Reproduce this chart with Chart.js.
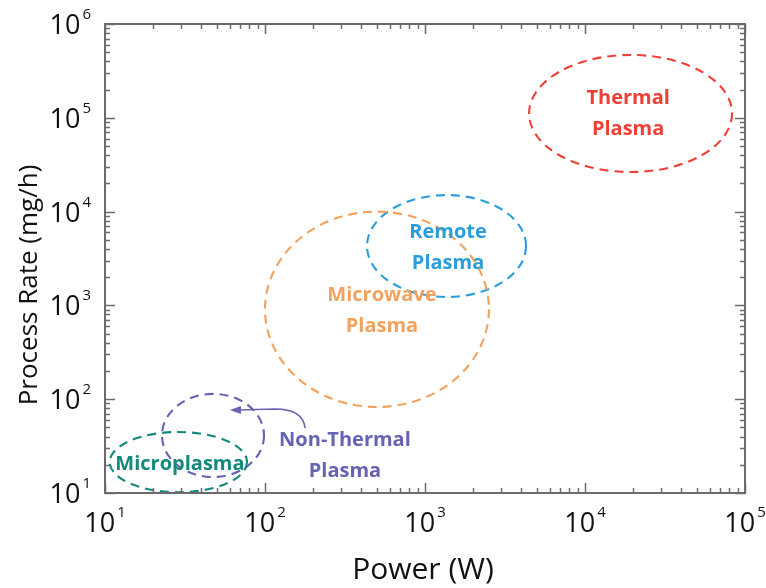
<!DOCTYPE html>
<html>
<head>
<meta charset="utf-8">
<script src="https://cdn.jsdelivr.net/npm/chart.js@4"></script>
<style>
  html, body { margin: 0; padding: 0; background: #ffffff; }
  #wrap { width: 766px; height: 588px; }
</style>
</head>
<body>
<div id="wrap"><canvas id="c" width="766" height="588"></canvas></div>
<script>
// ---- data ----
const regionNames = ['Thermal Plasma', 'Remote Plasma', 'Microwave Plasma', 'Non-Thermal Plasma', 'Microplasma'];
const labelLines  = [['Thermal', 'Plasma'], ['Remote', 'Plasma'], ['Microwave', 'Plasma'], ['Non-Thermal', 'Plasma'], ['Microplasma']];
const powerMin = [4470, 434, 100, 22.7, 10.7];      // W
const powerMax = [83000, 4280, 2510, 98.6, 77.2];   // W
const rateMin  = [26400, 1230, 82.6, 14.8, 10.2];   // mg/h
const rateMax  = [468000, 15000, 10000, 114, 44.7]; // mg/h
const labelPower = [18600, 1393, 538, 316, 29.4];
const labelRate  = [110000, 4090, 871, 24.8, 20.4];
const regionColors = ['#ee4036', '#2a9edb', '#f2a25e', '#6762b3', '#14897c'];

// arrow from the Non-Thermal label to its ellipse: start, control, tip
const arrowPower = [178, 154, 60.4];
const arrowRate  = [49.3, 76.7, 76.7];

// axes
const xMajorTicks = [10, 100, 1000, 10000, 100000];
const xTickExp    = ['1', '2', '3', '4', '5'];
const yMajorTicks = [10, 100, 1000, 10000, 100000, 1000000];
const yTickExp    = ['1', '2', '3', '4', '5', '6'];
const minorMult   = [2, 3, 4, 5, 6, 7, 8, 9];
const xTitle = 'Power (W)';
const yTitle = 'Process Rate (mg/h)';

const FONT = '"Open Sans", "Noto Sans", sans-serif';

const drawPlugin = {
  id: 'regions',
  afterDatasetsDraw(chart) {
    const ctx = chart.ctx;
    const xs = chart.scales.x, ys = chart.scales.y;
    const ca = chart.chartArea;

    // ellipses
    ctx.save();
    ctx.beginPath();
    ctx.rect(ca.left, ca.top - 2, ca.right - ca.left, ca.bottom - ca.top + 1);
    ctx.clip();
    for (let i = 0; i < regionNames.length; i++) {
      const x1 = xs.getPixelForValue(powerMin[i]), x2 = xs.getPixelForValue(powerMax[i]);
      const y1 = ys.getPixelForValue(rateMax[i]), y2 = ys.getPixelForValue(rateMin[i]);
      ctx.beginPath();
      ctx.ellipse((x1 + x2) / 2, (y1 + y2) / 2, (x2 - x1) / 2, (y2 - y1) / 2, 0, 0, Math.PI * 2);
      ctx.setLineDash([9, 6]);
      ctx.lineWidth = 2.1;
      ctx.strokeStyle = regionColors[i];
      ctx.stroke();
    }
    ctx.restore();

    // arrow
    ctx.save();
    const ax = arrowPower.map(v => xs.getPixelForValue(v));
    const ay = arrowRate.map(v => ys.getPixelForValue(v));
    ctx.strokeStyle = regionColors[3];
    ctx.fillStyle = regionColors[3];
    ctx.lineWidth = 1.7;
    ctx.beginPath();
    ctx.moveTo(ax[0], ay[0]);
    ctx.quadraticCurveTo(ax[1] + 8, ay[1] - 1, ax[1] - 20, ay[1] - 1);
    ctx.lineTo(ax[2] + 8, ay[2]);
    ctx.stroke();
    ctx.beginPath();
    ctx.moveTo(ax[2], ay[2]);
    ctx.lineTo(ax[2] + 11, ay[2] - 4);
    ctx.lineTo(ax[2] + 11, ay[2] + 4);
    ctx.closePath();
    ctx.fill();
    ctx.restore();

    // labels
    ctx.save();
    ctx.font = 'bold 20px ' + FONT;
    ctx.textAlign = 'center';
    ctx.textBaseline = 'middle';
    for (let i = 0; i < regionNames.length; i++) {
      const cx = xs.getPixelForValue(labelPower[i]);
      const cy = ys.getPixelForValue(labelRate[i]);
      const lines = labelLines[i];
      const lh = 31;
      ctx.fillStyle = regionColors[i];
      lines.forEach((t, k) => {
        ctx.fillText(t, cx, cy + (k - (lines.length - 1) / 2) * lh);
      });
    }
    ctx.restore();

    // frame
    ctx.save();
    ctx.strokeStyle = '#6b6b6b';
    ctx.lineWidth = 2;
    ctx.strokeRect(ca.left, ca.top, ca.right - ca.left, ca.bottom - ca.top);
    ctx.lineWidth = 1.5;
    ctx.beginPath();
    const tickX = (v, len) => {
      const p = Math.round(xs.getPixelForValue(v)) + 0.5;
      ctx.moveTo(p, ca.bottom); ctx.lineTo(p, ca.bottom - len);
      ctx.moveTo(p, ca.top); ctx.lineTo(p, ca.top + len);
    };
    const tickY = (v, len) => {
      const p = Math.round(ys.getPixelForValue(v)) + 0.5;
      ctx.moveTo(ca.left, p); ctx.lineTo(ca.left + len, p);
      ctx.moveTo(ca.right, p); ctx.lineTo(ca.right - len, p);
    };
    xMajorTicks.forEach((v, i) => {
      tickX(v, 10);
      if (i < xMajorTicks.length - 1) minorMult.forEach(m => tickX(v * m, 5));
    });
    yMajorTicks.forEach((v, i) => {
      tickY(v, 10);
      if (i < yMajorTicks.length - 1) minorMult.forEach(m => tickY(v * m, 5));
    });
    ctx.stroke();
    ctx.restore();

    // tick labels
    ctx.save();
    ctx.fillStyle = '#111111';
    ctx.textBaseline = 'alphabetic';
    ctx.textAlign = 'left';
    const baseFont = '27px ' + FONT, expFont = '15px ' + FONT;
    const measure = (exp) => {
      ctx.font = baseFont; const wb = ctx.measureText('10').width;
      ctx.font = expFont; const we = ctx.measureText(exp).width;
      return [wb, we];
    };
    xMajorTicks.forEach((v, i) => {
      const [wb, we] = measure(xTickExp[i]);
      const total = wb + 2 + we;
      const x0 = xs.getPixelForValue(v) - total / 2;
      const by = ca.bottom + 39;
      ctx.font = baseFont; ctx.fillText('10', x0, by);
      ctx.font = expFont; ctx.fillText(xTickExp[i], x0 + wb + 2, by - 15);
    });
    yMajorTicks.forEach((v, i) => {
      const [wb, we] = measure(yTickExp[i]);
      const right = ca.left - 14;
      const x0 = right - we - 2 - wb;
      const by = ys.getPixelForValue(v) + 10;
      ctx.font = baseFont; ctx.fillText('10', x0, by);
      ctx.font = expFont; ctx.fillText(yTickExp[i], x0 + wb + 2, by - 15);
    });
    ctx.restore();

    // axis titles
    ctx.save();
    ctx.fillStyle = '#111111';
    ctx.textAlign = 'center';
    ctx.textBaseline = 'alphabetic';
    ctx.font = '30px ' + FONT;
    ctx.fillText(xTitle, (ca.left + ca.right) / 2 - 2, 579);
    ctx.font = '26px ' + FONT;
    ctx.translate(37, 285);
    ctx.rotate(-Math.PI / 2);
    ctx.fillText(yTitle, 0, 0);
    ctx.restore();
  }
};

new Chart(document.getElementById('c'), {
  type: 'scatter',
  data: {
    datasets: [{
      label: 'Region centres',
      data: labelPower.map((p, i) => ({ x: p, y: labelRate[i] })),
      pointRadius: 0,
      showLine: false
    }]
  },
  options: {
    responsive: false,
    animation: false,
    devicePixelRatio: 1,
    layout: { padding: { left: 105, right: 21, top: 24, bottom: 95 } },
    plugins: { legend: { display: false }, tooltip: { enabled: false } },
    scales: {
      x: {
        type: 'logarithmic', min: 10, max: 100000,
        grid: { display: false }, border: { display: false },
        ticks: { display: false },
        afterFit: s => { s.height = 0; }
      },
      y: {
        type: 'logarithmic', min: 10, max: 1000000,
        grid: { display: false }, border: { display: false },
        ticks: { display: false },
        afterFit: s => { s.width = 0; }
      }
    }
  },
  plugins: [drawPlugin]
});
</script>
</body>
</html>
